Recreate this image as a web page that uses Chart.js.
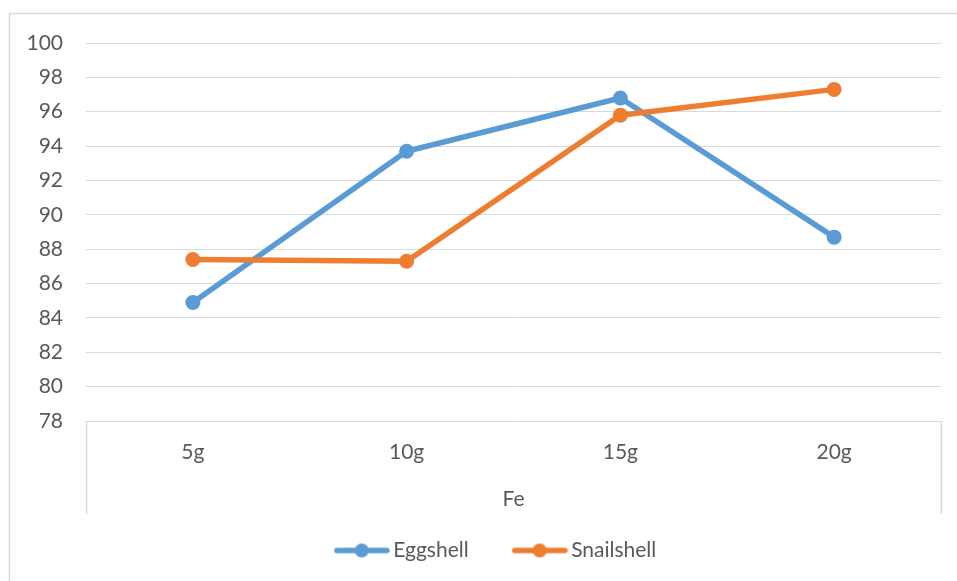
<!DOCTYPE html>
<html>
<head>
<meta charset="utf-8">
<script src="https://cdn.jsdelivr.net/npm/chart.js@4/dist/chart.umd.min.js"></script>
<style>
  html, body { margin: 0; padding: 0; background: #ffffff; }
  #wrap { width: 957px; height: 581px; position: relative; }
</style>
</head>
<body>
<div id="wrap"><canvas id="chart"></canvas></div>
<script>
// Categories and series values
const categories = ['5g', '10g', '15g', '20g'];
const eggshell   = [84.9, 93.7, 96.8, 88.7];
const snailshell = [87.4, 87.3, 95.8, 97.3];
const seriesNames = ['Eggshell', 'Snailshell'];
const axisTitle = 'Fe';
const yMin = 78, yMax = 100, yStep = 2;

// Styling
const colors = ['#5B9BD5', '#ED7D31'];
const textColor = '#595959';
const gridColor = '#d9d9d9';
const baseFont = { family: 'Lato, "Open Sans", sans-serif', size: 21 };
const categoryDividerDepth = 93;
const legendOffsetX = 18;

// Line-with-dot legend marker
function legendMarker(color) {
  const c = document.createElement('canvas');
  c.width = 56; c.height = 16;
  const g = c.getContext('2d');
  g.strokeStyle = color;
  g.lineWidth = 5.5;
  g.lineCap = 'round';
  g.beginPath(); g.moveTo(3, 8); g.lineTo(53, 8); g.stroke();
  g.fillStyle = color;
  g.beginPath(); g.arc(28, 8, 7, 0, Math.PI * 2); g.fill();
  return c;
}
const markers = colors.map(legendMarker);

// Outer frame and the category axis end dividers
const framePlugin = {
  id: 'frame',
  afterLayout(chart) {
    // centre the legend under the whole chart rather than the padded box
    if (chart.legend) {
      chart.legend.left += legendOffsetX;
      chart.legend.right += legendOffsetX;
    }
  },
  beforeDraw(chart) {
    const { ctx, chartArea } = chart;
    ctx.save();
    ctx.strokeStyle = gridColor;
    ctx.lineWidth = 1.5;
    ctx.strokeRect(9.5, 13.5, chart.width, chart.height);
    ctx.beginPath();
    [chartArea.left, chartArea.right].forEach(x => {
      const px = Math.round(x) + 0.5;
      ctx.moveTo(px, chartArea.bottom);
      ctx.lineTo(px, chartArea.bottom + categoryDividerDepth);
    });
    ctx.stroke();
    ctx.restore();
  }
};

function series(i, data, order) {
  return {
    label: seriesNames[i],
    data: data,
    borderColor: colors[i],
    backgroundColor: colors[i],
    pointBackgroundColor: colors[i],
    borderWidth: 5.5,
    borderCapStyle: 'round',
    borderJoinStyle: 'round',
    pointRadius: 7.5,
    pointHoverRadius: 7.5,
    pointBorderWidth: 0,
    tension: 0,
    order: order
  };
}

new Chart(document.getElementById('chart'), {
  type: 'line',
  data: {
    labels: categories,
    datasets: [series(0, eggshell, 1), series(1, snailshell, 0)]
  },
  options: {
    responsive: true,
    maintainAspectRatio: false,
    animation: false,
    devicePixelRatio: 1,
    layout: { padding: { left: 20, right: 16, top: 43, bottom: 10 } },
    scales: {
      x: {
        offset: true,
        grid: { display: false, drawTicks: false },
        border: { display: false },
        ticks: { color: textColor, font: baseFont, padding: 19 },
        title: {
          display: true, text: axisTitle, color: textColor, font: baseFont,
          padding: { top: 0, bottom: -22 }
        },
        afterFit(scale) { scale.height = 69; }
      },
      y: {
        min: yMin, max: yMax,
        ticks: { stepSize: yStep, color: textColor, font: baseFont, padding: 23 },
        grid: { color: gridColor, lineWidth: 1, drawTicks: false },
        border: { display: false },
        afterFit(scale) { scale.width = 66; }
      }
    },
    plugins: {
      legend: {
        position: 'bottom',
        labels: {
          usePointStyle: true,
          pointStyleWidth: 42,
          padding: 50,
          color: textColor,
          font: baseFont,
          generateLabels(chart) {
            return chart.data.datasets.map((ds, i) => ({
              text: ds.label,
              fillStyle: ds.borderColor,
              strokeStyle: ds.borderColor,
              lineWidth: 0,
              pointStyle: markers[i],
              fontColor: textColor,
              hidden: !chart.isDatasetVisible(i),
              datasetIndex: i
            }));
          }
        }
      },
      tooltip: { enabled: false }
    }
  },
  plugins: [framePlugin]
});
</script>
</body>
</html>
